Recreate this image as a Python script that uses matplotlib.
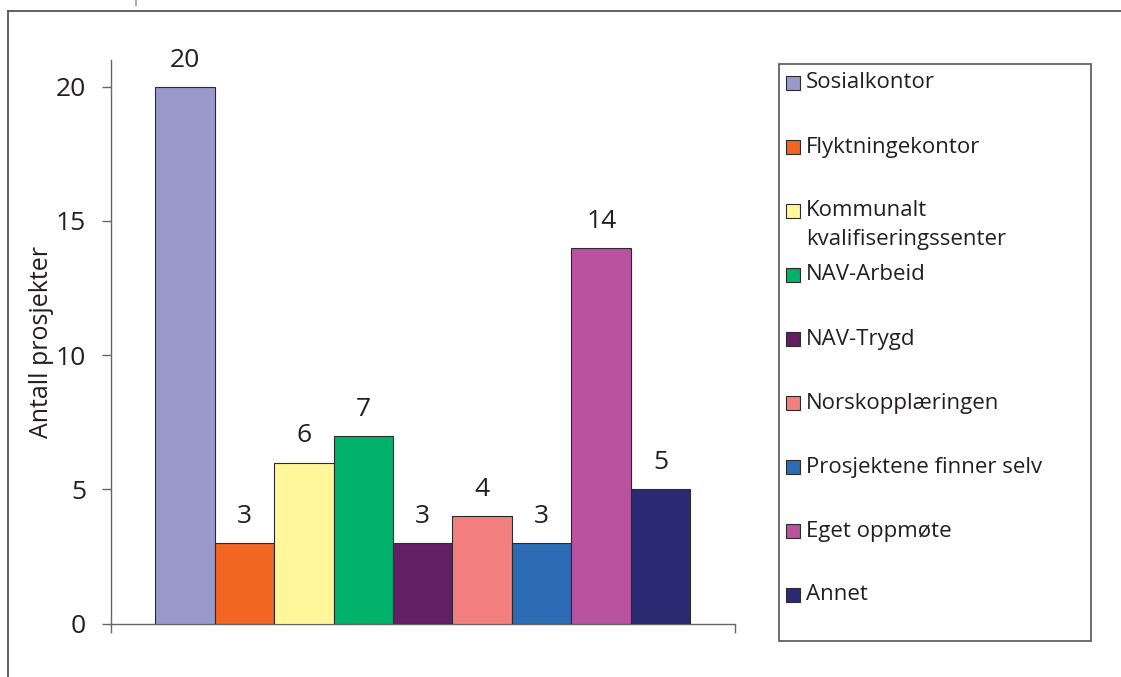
import matplotlib
matplotlib.use("Agg")
import matplotlib.pyplot as plt
from matplotlib.patches import Rectangle
from matplotlib.lines import Line2D

categories = ["Sosialkontor", "Flyktningekontor", "Kommunalt\nkvalifiseringssenter",
              "NAV-Arbeid", "NAV-Trygd", "Norskopplæringen",
              "Prosjektene finner selv", "Eget oppmøte", "Annet"]
values = [20, 3, 6, 7, 3, 4, 3, 14, 5]
colors = ["#9999CC", "#F26522", "#FFF799", "#00B16A", "#631F63",
          "#F47F7F", "#2E6BB5", "#B9529F", "#2A2A72"]
yticks = [0, 5, 10, 15, 20]

FONT = "Open Sans"
plt.rcParams['font.family'] = [FONT, 'DejaVu Sans']

W, H = 1121, 677
fig = plt.figure(figsize=(W / 100, H / 100), dpi=100)

def fx(px):
    return px / W

def fy(py):
    return 1 - py / H

# outer frame (left and top lines)
fig.add_artist(Line2D([fx(7.5), fx(7.5)], [fy(10.7), fy(H + 5)], color="#555555", lw=1.3))
fig.add_artist(Line2D([fx(7.5), fx(W + 5)], [fy(10.7), fy(10.7)], color="#555555", lw=1.3))
fig.add_artist(Line2D([fx(136), fx(136)], [fy(0), fy(5)], color="#AAAAAA", lw=1.5))

ax_left, ax_right = 110.5, 735
ax_top, ax_bot = 60, 623.5
ax = fig.add_axes([fx(ax_left), fy(ax_bot), fx(ax_right - ax_left), (ax_bot - ax_top) / H])

n = len(values)
x = list(range(n))
bars = ax.bar(x, values, width=1.0, color=colors, edgecolor="#2b2b2b", linewidth=0.8, zorder=3)

# label values
for xi, v in zip(x, values):
    ax.annotate(str(v), (xi, v), xytext=(0, 14.5), textcoords="offset points",
                ha="center", va="baseline", fontsize=19, color="#231F20")

px_per_unit = (690 - 155) / n
pad_units = (155 - ax_left) / px_per_unit
ax.set_xlim(-0.5 - pad_units, n - 0.5 + pad_units)
ax.set_ylim(0, 21)

for s in ["top", "right"]:
    ax.spines[s].set_visible(False)
for s in ["left", "bottom"]:
    ax.spines[s].set_color("#666666")
    ax.spines[s].set_linewidth(1.0)

ax.set_yticks(yticks)
ax.set_yticklabels([str(t) for t in yticks], fontsize=19, color="#231F20")
ax.tick_params(axis="y", direction="out", length=6.5, width=1.0, color="#666666", pad=11)
ax.set_xticks(list(ax.get_xlim()))
ax.set_xticklabels([])
ax.tick_params(axis="x", direction="out", length=6.5, width=1.0, color="#666666")

ax.set_ylabel("Antall prosjekter", fontsize=18, color="#231F20")
ax.yaxis.set_label_coords((54 - ax_left) / (ax_right - ax_left), 0.5)

# legend box (drawn manually)
lx0, lx1, ly0, ly1 = 779, 1090.5, 63.5, 641
fig.add_artist(Rectangle((fx(lx0), fy(ly1)), fx(lx1 - lx0), (ly1 - ly0) / H,
                         fill=False, edgecolor="#555555", linewidth=1.2))
entry_y0 = 83
step = 64
sq = 14
for i, (lab, col) in enumerate(zip(categories, colors)):
    yc = entry_y0 + i * step
    fig.add_artist(Rectangle((fx(786), fy(yc + sq / 2)), fx(sq), sq / H,
                             facecolor=col, edgecolor="#2b2b2b", linewidth=0.8))
    lines = lab.split("\n")
    for j, ln in enumerate(lines):
        fig.text(fx(806), fy(yc + j * 28), ln, fontsize=16, color="#231F20",
                 ha="left", va="center")

fig.savefig("out.png", dpi=100)
